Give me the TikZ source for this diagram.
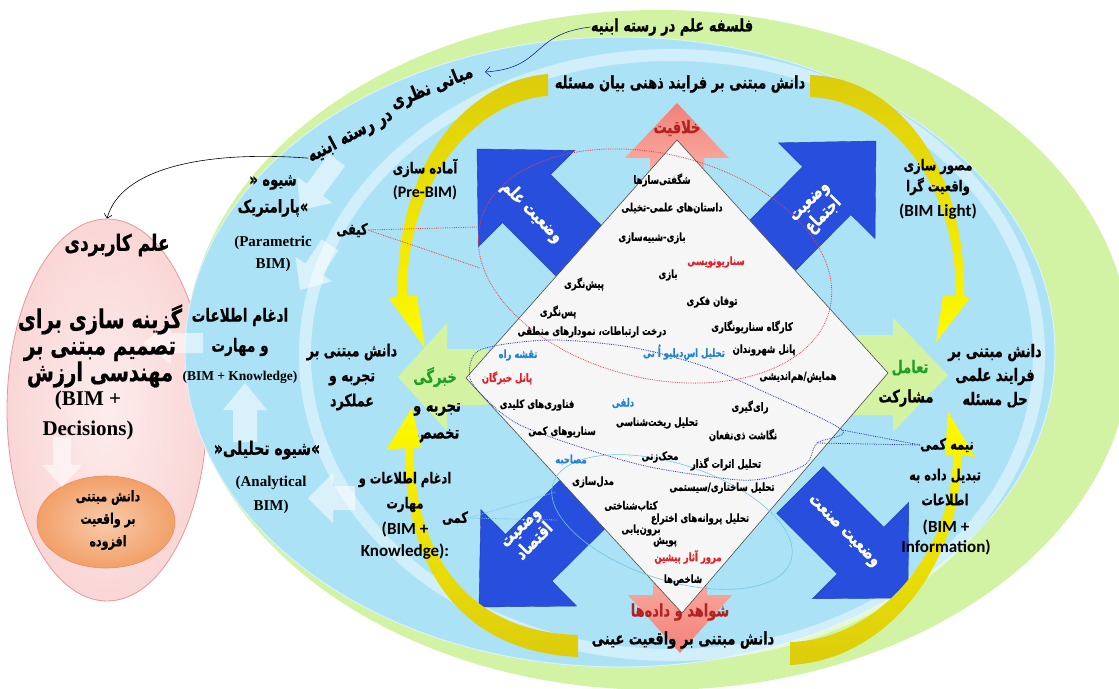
\documentclass[tikz,border=0pt]{standalone}
\usepackage{fontspec}
\usetikzlibrary{calc,shapes.geometric,arrows.meta}
\TeXXeTstate=1
\lineskiplimit=-100pt\relax
\newfontfamily\farsi[Script=Arabic, Scale=1.133, FakeStretch=0.75, BoldFeatures={FakeBold=0.6}]{DejaVu Sans}
\newfontfamily\serifb{Liberation Serif}
\newfontfamily\sansb{Carlito}
\newcommand{\fatx}[1]{{\farsi\beginR#1\endR}}
\newcommand{\FatArrow}[6]{%
  \coordinate (fb) at ($(#3)!#6!(#2)$);
  \path[#1] ($(#2)!#4!90:(#3)$) -- ($(fb)!#4!90:(#3)$) -- ($(fb)!#5!90:(#3)$) -- (#3) --
    ($(fb)!#5!-90:(#3)$) -- ($(fb)!#4!-90:(#3)$) -- ($(#2)!#4!-90:(#3)$) -- cycle;%
}
\definecolor{ringgreen}{RGB}{210,243,164}
\definecolor{skyfill}{RGB}{172,226,246}
\definecolor{pinkfill}{RGB}{250,214,214}
\definecolor{pinkline}{RGB}{232,150,150}
\definecolor{orangefill}{RGB}{242,160,104}
\definecolor{orangeline}{RGB}{236,140,92}
\definecolor{royal}{RGB}{40,78,222}
\definecolor{salmon}{RGB}{242,128,118}
\definecolor{salmonlt}{RGB}{252,192,182}
\definecolor{limefill}{RGB}{212,243,162}
\definecolor{gold}{RGB}{220,204,12}
\definecolor{brightyel}{RGB}{255,250,0}
\definecolor{redtx}{RGB}{232,28,36}
\definecolor{darkred}{RGB}{178,34,34}
\definecolor{bluetx}{RGB}{30,130,220}
\definecolor{greentx}{RGB}{30,160,40}
\definecolor{navyline}{RGB}{40,60,170}
\definecolor{cyanline}{RGB}{110,200,232}
\definecolor{diamondfill}{RGB}{246,246,246}

\begin{document}
\begin{tikzpicture}[x=1pt, y=-1pt,
  bigfa/.style={font=\farsi\bfseries\fontsize{15.3}{#1}\selectfont, align=center, inner sep=0pt},
  bigfa/.default=24,
  midfa/.style 2 args={font=\farsi\bfseries\fontsize{#1}{#2}\selectfont, align=center, inner sep=0pt},
  item/.style={font=\farsi\bfseries\fontsize{10}{12}\selectfont, inner sep=0pt},
  arrowfa/.style={font=\farsi\bfseries\fontsize{16}{20}\selectfont, text=white, align=center, inner sep=0pt},
  latserif/.style 2 args={font=\serifb\bfseries\fontsize{#1}{#2}\selectfont, align=center, inner sep=0pt},
  latsans/.style 2 args={font=\sansb\bfseries\fontsize{#1}{#2}\selectfont, align=center, inner sep=0pt},
  bluearr/.style={fill=royal, draw=royal!80!black, line width=0.4pt},
  salmonup/.style={top color=salmon, bottom color=salmonlt},
  salmondown/.style={top color=salmonlt, bottom color=salmon},
  limearr/.style={fill=limefill},
  palearr/.style={fill=white, fill opacity=0.55},
  yeltop/.style={top color=gold, bottom color=brightyel},
  yelbot/.style={top color=brightyel, bottom color=gold},
  reddot/.style={draw=redtx!85, densely dotted, line width=0.8pt},
  navydot/.style={draw=navyline, densely dotted, line width=0.8pt},
  cyandot/.style={draw=cyanline, densely dotted, line width=0.8pt},
  thinlink/.style={line width=0.6pt}]
\useasboundingbox (0,0) rectangle (1119,688);
\fill[white] (0,0) rectangle (1119,688);

\node[ellipse, draw=pinkline, inner color=white!55!pinkfill, outer color=pinkfill, line width=0.8pt, minimum width=200pt, minimum height=382pt, inner sep=0pt] (pinkell) at (107,410) {};
\fill[ringgreen] (658,350) ellipse (472 and 340);
\filldraw[fill=skyfill, draw=white!55!skyfill, line width=1pt] (620,352) ellipse (435 and 315);
\draw[white, opacity=0.45, line width=12pt] (672,355) ellipse (367 and 300);

\node[ellipse, inner color=orangefill!55!white, outer color=orangefill, draw=orangeline, line width=0.6pt, minimum width=138pt, minimum height=92pt, inner sep=0pt] (orangell) at (106,522) {};

\FatArrow{salmonup}{677,200}{677,103}{27pt}{52pt}{55pt}
\FatArrow{salmondown}{680,540}{680,653}{27pt}{52pt}{58pt}
\FatArrow{limearr}{488,377}{398,377}{28pt}{54pt}{49pt}
\FatArrow{limearr}{850,375}{948,375}{40pt}{57pt}{55pt}
\FatArrow{bluearr}{590,262}{477,149}{34pt}{68pt}{70pt}
\FatArrow{bluearr}{766,252}{876,141}{34pt}{68pt}{70pt}
\FatArrow{bluearr}{590,497}{479,607}{33pt}{68pt}{70pt}
\FatArrow{bluearr}{800,490}{908,598}{33pt}{68pt}{67pt}

\coordinate (dtop) at (677,140);
\coordinate (dright) at (888,373);
\coordinate (dbot) at (682,613);
\coordinate (dleft) at (466,378);
\filldraw[fill=diamondfill, draw=gray!60!black, line width=0.6pt] (dtop) -- (dright) -- (dbot) -- (dleft) -- cycle;

\FatArrow{palearr}{203,343}{143,343}{10pt}{21pt}{28pt}
\FatArrow{palearr}{62,437}{62,487}{9pt}{20pt}{22pt}
\FatArrow{palearr}{245,442}{245,383}{12pt}{22pt}{27pt}
\FatArrow{palearr}{355,498}{308,498}{12pt}{25pt}{25pt}
\FatArrow{palearr}{337,160}{300,210}{10pt}{22pt}{25pt}
\FatArrow{palearr}{330,245}{300,290}{10pt}{22pt}{25pt}

\node[bigfa=27] (takhasos) at (437,423) {\fatx{تجربه و}\\\fatx{تخصص}};

\path[yeltop] (548,74) .. controls (470,80) and (395,160) .. (398,296) -- (389,298) -- (425,348) -- (417,296) -- (407,296) .. controls (406,175) and (480,100) .. (548,96) -- cycle;
\path[yeltop] (810,75) .. controls (900,78) and (966,170) .. (964,296) -- (970,298) -- (936,342) -- (943,296) -- (956,296) .. controls (957,185) and (890,100) .. (810,97) -- cycle;
\path[yelbot] (578,657) .. controls (470,652) and (405,580) .. (405,448) -- (386,450) -- (412,408) -- (421,448) -- (413,448) .. controls (416,570) and (480,632) .. (578,635) -- cycle;
\path[yelbot] (790,665) .. controls (890,660) and (962,560) .. (961,455) -- (975,457) -- (948,412) -- (945,455) -- (953,455) .. controls (953,550) and (880,640) .. (790,642) -- cycle;

\draw[reddot, shift={(655,266)}, rotate=-14] (0,0) ellipse (180 and 112);
\draw[navydot] plot[smooth cycle] coordinates {(480,350) (550,340) (630,347) (700,365) (760,390) (842,430) (817,443) (807,463) (780,475) (740,480) (650,467) (580,447) (520,425) (490,403) (470,378)};
\draw[draw=cyanline, line width=0.6pt, shift={(672,522)}, rotate=-18] (0,0) ellipse (125 and 58);

\node[arrowfa, rotate=-45] (elm) at (532,212) {\fatx{وضعیت علم}};
\node[arrowfa, rotate=45] (ejtema) at (818,210) {\fatx{وضعیت}\\\fatx{اجتماع}};
\node[arrowfa, rotate=45] (eghtesad) at (528,535) {\fatx{وضعیت}\\\fatx{اقتصاد}};
\node[arrowfa, rotate=-45] (sanat) at (843,532) {\fatx{وضعیت صنعت}};

\node[bigfa] (title) at (672,27) {\fatx{فلسفه علم در رسته ابنیه}};
\node[midfa={17}{20}, rotate=22] (mab1) at (432,88) {\fatx{مبانی نظری}};
\node[midfa={17}{20}, rotate=28] (mab2) at (350,136) {\fatx{در رسته ابنیه}};
\coordinate (mabtip) at (485,72);
\draw[thinlink, draw=navyline!70!black, -{Straight Barb[length=5pt]}] (title.west) .. controls (530,34) and (545,68) .. (mabtip);
\draw[thinlink, -{Straight Barb[length=4pt]}] (mab2.west) .. controls (200,150) and (120,170) .. (pinkell.north);
\node[bigfa] (topfa) at (680,84) {\fatx{دانش مبتنی بر فرایند ذهنی بیان مسئله}};
\node[bigfa, text=darkred] (creat) at (677,128) {\fatx{خلاقیت}};
\node[midfa={13.5}{20}] (prebim) at (425,168) {\fatx{آماده سازی}};
\node[latsans={16}{20}] (prebimen) at (425,193) {(Pre-BIM)};
\node[midfa={15.5}{27}] (param) at (273,196) {\fatx{شیوه «}\\\fatx{»پارامتریک}};
\node[latserif={15}{22}] (paramen) at (273,254) {(Parametric\\BIM)};
\node[midfa={13.5}{20}] (kayfi) at (352,230) {\fatx{کیفی}};
\draw[reddot] (kayfi.east) -- (477,227);
\draw[reddot] (kayfi.east) -- (480,268);
\node[midfa={16}{30}] (idgham) at (240,332) {\fatx{ادغام اطلاعات}\\\fatx{و مهارت}};
\node[latserif={13.5}{16}] (idghamen) at (240,377) {(BIM + Knowledge)};
\node[midfa={14.8}{25}] (tajrobe) at (352,377) {\fatx{دانش مبتنی بر}\\\fatx{تجربه و}\\\fatx{عملکرد}};
\node[bigfa, text=greentx] (khebregi) at (435,377) {\fatx{خبرگی}};
\node[midfa={16.5}{20}] (analyt) at (267,450) {\fatx{»شیوه تحلیلی«}};
\node[latserif={15}{24}] (analyten) at (271,495) {(Analytical\\BIM)};
\node[midfa={13.5}{25}] (idgham2) at (405,492) {\fatx{ادغام اطلاعات و}\\\fatx{مهارت}};
\node[latsans={17}{22}] (idgham2en) at (405,541) {(BIM +\\Knowledge):};
\node[midfa={13.5}{20}] (kammi) at (455,518) {\fatx{کمی}};
\draw[cyandot] (kammi.east) -- (556,492);
\draw[cyandot] (kammi.east) -- (558,520);
\node[bigfa, text=darkred] (shavahed) at (680,612) {\fatx{شواهد و داده‌ها}};
\node[bigfa] (botfa) at (683,640) {\fatx{دانش مبتنی بر واقعیت عینی}};
\node[midfa={13.5}{21}] (mosavar) at (938,177) {\fatx{مصور سازی}\\\fatx{واقعیت گرا}};
\node[latsans={17}{20}] (mosavaren) at (938,212) {(BIM Light)};
\node[bigfa, text=greentx] (taamol) at (910,368) {\fatx{تعامل}};
\node[bigfa] (mosharekat) at (906,398) {\fatx{مشارکت}};
\node[bigfa=24] (elmi) at (995,376) {\fatx{دانش مبتنی بر}\\\fatx{فرایند علمی}\\\fatx{حل مسئله}};
\node[midfa={13.5}{20}] (nime) at (947,445) {\fatx{نیمه کمی}};
\draw[navydot] (nime.west) -- (842,430);
\draw[navydot] (nime.west) -- (817,443);
\node[midfa={13.5}{25}] (tabdil) at (945,487) {\fatx{تبدیل داده به}\\\fatx{اطلاعات}};
\node[latsans={17}{20}] (tabdilen) at (946,537) {(BIM +\\Information)};

\node[midfa={20}{24}] (applied) at (117,245) {\fatx{علم کاربردی}};
\node[midfa={23}{26.5}] (gozine) at (100,346) {\fatx{گزینه سازی برای}\\\fatx{تصمیم مبتنی بر}\\\fatx{مهندسی ارزش}};
\node[latserif={21}{30}] (bimdec) at (88,415) {(BIM +\\Decisions)};
\node[midfa={13}{22.5}] (afzude) at (108,520) {\fatx{دانش مبتنی}\\\fatx{بر واقعیت}\\\fatx{افزوده}};

\node[item] (d1) at (662,180) {\fatx{شگفتی‌سازها}};
\node[item] (d2) at (672,208) {\fatx{داستان‌های علمی-تخیلی}};
\node[item] (d3) at (652,238) {\fatx{بازی-شبیه‌سازی}};
\node[item, text=redtx] (d4) at (716,262) {\fatx{سناریونویسی}};
\node[item] (d5) at (668,275) {\fatx{بازی}};
\node[item] (d6) at (584,284) {\fatx{پیش‌نگری}};
\node[item] (d7) at (712,302) {\fatx{توفان فکری}};
\node[item] (d8) at (558,312) {\fatx{پس‌نگری}};
\node[item] (d9) at (752,327) {\fatx{کارگاه سناریونگاری}};
\node[item] (d10) at (592,332) {\fatx{درخت ارتباطات، نمودارهای منطقی}};
\node[item, text=bluetx] (d11) at (518,355) {\fatx{نقشه راه}};
\node[item, text=bluetx] (d12) at (684,352) {\fatx{تحلیل اس‌دبلیو اُ تی}};
\node[item] (d13) at (764,350) {\fatx{پانل شهروندان}};
\node[item, text=redtx] (d14) at (507,378) {\fatx{پانل خبرگان}};
\node[item] (d15) at (798,377) {\fatx{همایش/هم‌اندیشی}};
\node[item] (d16) at (537,405) {\fatx{فناوری‌های کلیدی}};
\node[item, text=bluetx] (d17) at (623,403) {\fatx{دلفی}};
\node[item] (d18) at (750,407) {\fatx{رای‌گیری}};
\node[item] (d19) at (657,423) {\fatx{تحلیل ریخت‌شناسی}};
\node[item] (d20) at (562,432) {\fatx{سناریوهای کمی}};
\node[item] (d21) at (743,435) {\fatx{نگاشت ذی‌نفعان}};
\node[item] (d22) at (660,457) {\fatx{محک‌زنی}};
\node[item, text=bluetx] (d23) at (571,460) {\fatx{مصاحبه}};
\node[item] (d24) at (726,464) {\fatx{تحلیل اثرات گذار}};
\node[item] (d25) at (593,482) {\fatx{مدل‌سازی}};
\node[item] (d26) at (722,488) {\fatx{تحلیل ساختاری/سیستمی}};
\node[item] (d27) at (631,506) {\fatx{کتاب‌شناختی}};
\node[item] (d28) at (700,519) {\fatx{تحلیل پروانه‌های اختراع}};
\node[item] (d29) at (641,530) {\fatx{برون‌یابی}};
\node[item] (d30) at (665,542) {\fatx{پویش}};
\node[item, text=redtx] (d31) at (688,557) {\fatx{مرور آثار پیشین}};
\node[item] (d32) at (683,580) {\fatx{شاخص‌ها}};
\end{tikzpicture}
\end{document}
